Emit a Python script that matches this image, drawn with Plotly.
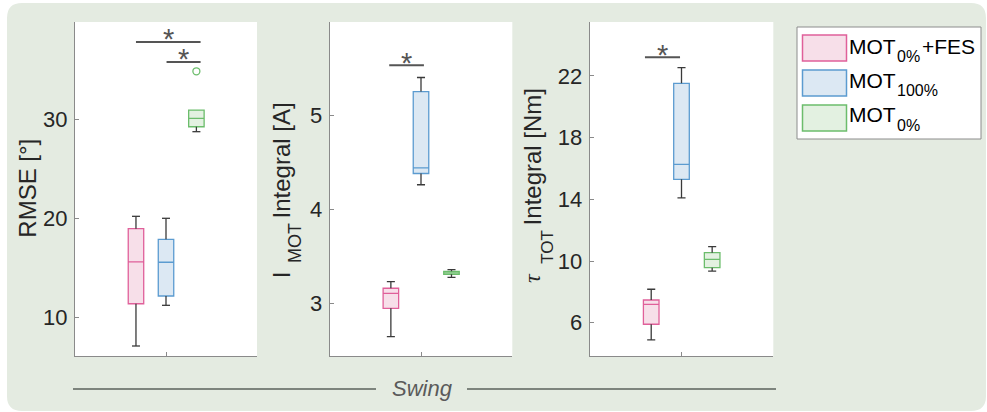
import plotly.graph_objects as go

W, H = 987, 412

# ---- data -------------------------------------------------------------
groups = ["MOT<sub>0%</sub>+FES", "MOT<sub>100%</sub>", "MOT<sub>0%</sub>"]
legend_main = ["MOT", "MOT", "MOT"]
legend_sub = ["0%", "100%", "0%"]
legend_tail = ["+FES", "", ""]

# box statistics per group: [lower whisker, Q1, median, Q3, upper whisker]
rmse_stats = [
    [7.07, 11.34, 15.56, 18.92, 20.17],
    [11.18, 12.12, 15.53, 17.85, 19.97],
    [28.72, 29.22, 30.07, 30.90, 30.90],
]
rmse_outliers = [[], [], [34.82]]

imot_stats = [
    [2.645, 2.947, 3.106, 3.160, 3.230],
    [4.26, 4.38, 4.44, 5.25, 5.40],
    [3.276, 3.308, 3.324, 3.340, 3.357],
]
imot_outliers = [[], [], []]

tau_stats = [
    [4.88, 5.90, 7.19, 7.47, 8.17],
    [14.09, 15.30, 16.27, 21.52, 22.54],
    [9.35, 9.57, 10.11, 10.54, 10.93],
]
tau_outliers = [[], [], []]

rmse_ticks = [10, 20, 30]
imot_ticks = [3, 4, 5]
tau_ticks = [6, 10, 14, 18, 22]

# significance brackets: (from x, to x, level)
rmse_sig = [(0.835, 1.19, 37.78), (1.003, 1.19, 35.76)]
imot_sig = [(0.826, 1.016, 5.53)]
tau_sig = [(0.801, 0.992, 23.21)]

# ---- styling ----------------------------------------------------------
edge_colors = ["#e0609a", "#5b9bd0", "#6cbd6c"]
fill_colors = ["#f7dfe9", "#dce8f3", "#e3f1e1"]
group_offsets = [-0.165, 0.0, 0.167]
BOX_W = 0.085
CAP = 0.022
WHISKER = "#3a3a3a"
AXIS = "#8a8a8a"
TEXT = "#262626"
SIG = "#555555"
BG = "#e4ebe1"
FONT = "Liberation Sans, Arial, sans-serif"
SERIF = "Liberation Serif, Times New Roman, serif"
ASC_MID = 0.3465  # distance from baseline to text-box centre, in em


def px(x):
    return x / W


def py(y):
    return 1 - y / H


annotations = []


def label_h(left, baseline, text, size, color="black", family=FONT):
    """Horizontal text segment: left edge and baseline in pixels."""
    annotations.append(dict(x=px(left), y=py(baseline - ASC_MID * size),
                            xref="paper", yref="paper", text=text, showarrow=False,
                            xanchor="left", yanchor="middle",
                            font=dict(size=size, color=color, family=family)))


def label_v(baseline, centre, text, size, color=TEXT, family=FONT):
    """Text rotated to read upwards: baseline x and centre y in pixels."""
    annotations.append(dict(x=px(baseline - ASC_MID * size), y=py(centre),
                            xref="paper", yref="paper", text=text, showarrow=False,
                            textangle=-90, xanchor="center", yanchor="middle",
                            font=dict(size=size, color=color, family=family)))


panels = [
    dict(stats=rmse_stats, outl=rmse_outliers, ticks=rmse_ticks, rng=[6.06, 39.8],
         sig=rmse_sig, xpx=(75, 257)),
    dict(stats=imot_stats, outl=imot_outliers, ticks=imot_ticks, rng=[2.44, 5.99],
         sig=imot_sig, xpx=(329.7, 512.3)),
    dict(stats=tau_stats, outl=tau_outliers, ticks=tau_ticks, rng=[3.84, 25.5],
         sig=tau_sig, xpx=(589.7, 773.3)),
]
YTOP, YBOT = 22, 356

fig = go.Figure()
shapes = []

# rounded panel background
r = 15
x0, x1, y0, y1 = 7, 986, 3, 411
rx, ry = r / W, r / H
path = (
    f"M {px(x0)},{py(y0) - ry} "
    f"Q {px(x0)},{py(y0)} {px(x0) + rx},{py(y0)} "
    f"L {px(x1) - rx},{py(y0)} "
    f"Q {px(x1)},{py(y0)} {px(x1)},{py(y0) - ry} "
    f"L {px(x1)},{py(y1) + ry} "
    f"Q {px(x1)},{py(y1)} {px(x1) - rx},{py(y1)} "
    f"L {px(x0) + rx},{py(y1)} "
    f"Q {px(x0)},{py(y1)} {px(x0)},{py(y1) + ry} Z"
)
shapes.append(dict(type="path", path=path, xref="paper", yref="paper",
                   fillcolor=BG, line=dict(width=0), layer="below"))

for i, p in enumerate(panels, start=1):
    xa = "x" if i == 1 else f"x{i}"
    ya = "y" if i == 1 else f"y{i}"
    xl, xr = p["xpx"]
    # white plotting area
    shapes.append(dict(type="rect", xref="paper", yref="paper",
                       x0=px(xl), x1=px(xr), y0=py(YBOT), y1=py(YTOP),
                       fillcolor="white", line=dict(width=0), layer="below"))

    for g, st in enumerate(p["stats"]):
        lw, q1, med, q3, uw = st
        xc = 1 + group_offsets[g]
        # whiskers with end caps
        wx, wy = [], []
        if uw > q3:
            wx += [xc, xc, None, xc - CAP, xc + CAP, None]
            wy += [q3, uw, None, uw, uw, None]
        if lw < q1:
            wx += [xc, xc, None, xc - CAP, xc + CAP, None]
            wy += [q1, lw, None, lw, lw, None]
        fig.add_trace(go.Scatter(x=wx, y=wy, mode="lines", xaxis=xa, yaxis=ya,
                                 line=dict(color=WHISKER, width=1.3),
                                 showlegend=False, hoverinfo="skip"))
        # box body (interquartile range + median)
        fig.add_trace(go.Box(x=[xc], q1=[q1], median=[med], q3=[q3],
                             lowerfence=[q1], upperfence=[q3],
                             width=BOX_W, whiskerwidth=0, boxpoints=False,
                             fillcolor=fill_colors[g],
                             line=dict(color=edge_colors[g], width=1.3),
                             xaxis=xa, yaxis=ya, name=groups[g], showlegend=False))
        if p["outl"][g]:
            fig.add_trace(go.Scatter(x=[xc] * len(p["outl"][g]), y=p["outl"][g],
                                     mode="markers", xaxis=xa, yaxis=ya,
                                     marker=dict(symbol="circle-open", size=7,
                                                 color=edge_colors[g],
                                                 line=dict(width=1.3)),
                                     showlegend=False))

    # significance brackets and stars
    for sx0, sx1, sy in p["sig"]:
        shapes.append(dict(type="line", xref=xa, yref=ya, x0=sx0, x1=sx1, y0=sy, y1=sy,
                           line=dict(color=SIG, width=2)))
        annotations.append(dict(x=(sx0 + sx1) / 2, y=sy, xref=xa, yref=ya,
                                text="*", showarrow=False, yanchor="middle",
                                yshift=2.5, font=dict(size=29, color=SIG, family=FONT)))

    common = dict(showline=True, linecolor=AXIS, linewidth=1.3, showgrid=False,
                  zeroline=False, ticks="inside", ticklen=4, tickcolor=AXIS,
                  tickwidth=1.2, automargin=False)
    fig.update_layout(**{
        ("xaxis" if i == 1 else f"xaxis{i}"): dict(
            domain=[px(xl), px(xr)], range=[0.5, 1.5], tickvals=[1],
            showticklabels=False, anchor=ya, fixedrange=True, **common),
        ("yaxis" if i == 1 else f"yaxis{i}"): dict(
            domain=[py(YBOT), py(YTOP)], range=p["rng"], tickvals=p["ticks"],
            tickfont=dict(size=22, color=TEXT, family=FONT), anchor=xa,
            ticklabelstandoff=2, **common),
    })

# axis titles (main text, subscript and symbol placed separately)
label_v(35, 188, "RMSE [°]", 24)
label_v(290, 274.5, "I", 24)
label_v(302, 243.3, "MOT", 18)
label_v(290, 160.8, "Integral [A]", 24)
label_v(541, 278.3, "<i>τ</i>", 24, family=SERIF)
label_v(554, 246.7, "TOT", 17)
label_v(541, 156.7, "Integral [Nm]", 24)

# legend box
shapes.append(dict(type="rect", xref="paper", yref="paper",
                   x0=px(797), x1=px(981), y0=py(139), y1=py(27),
                   fillcolor="white", line=dict(color="#8c8c8c", width=1)))
patch_tops = [35, 70, 105]
baselines = [53.3, 87.5, 121.8]
for g in range(3):
    t = patch_tops[g]
    shapes.append(dict(type="rect", xref="paper", yref="paper",
                       x0=px(802.5), x1=px(846.5), y0=py(t + 26), y1=py(t),
                       fillcolor=fill_colors[g],
                       line=dict(color=edge_colors[g], width=1.5)))
    b = baselines[g]
    label_h(847, b, legend_main[g], 21)
    label_h(894.6, b + 9, legend_sub[g], 16)
    if legend_tail[g]:
        label_h(920.3, b, legend_tail[g], 21)

# phase label with rule lines
shapes.append(dict(type="line", xref="paper", yref="paper", x0=px(73), x1=px(376),
                   y0=py(389), y1=py(389), line=dict(color="#7d847d", width=2)))
shapes.append(dict(type="line", xref="paper", yref="paper", x0=px(467), x1=px(776),
                   y0=py(389), y1=py(389), line=dict(color="#7d847d", width=2)))
annotations.append(dict(x=px(422.5), y=py(388), xref="paper", yref="paper",
                        text="<i>Swing</i>", showarrow=False, xanchor="center",
                        yanchor="middle", font=dict(size=22, color="#5a5a5a", family=FONT)))

fig.update_layout(
    width=W, height=H, autosize=False,
    margin=dict(l=0, r=0, t=0, b=0),
    paper_bgcolor="white", plot_bgcolor="rgba(0,0,0,0)",
    shapes=shapes, annotations=annotations,
    showlegend=False, boxmode="overlay",
    font=dict(family=FONT, color=TEXT),
)

fig.write_html("out.html")
